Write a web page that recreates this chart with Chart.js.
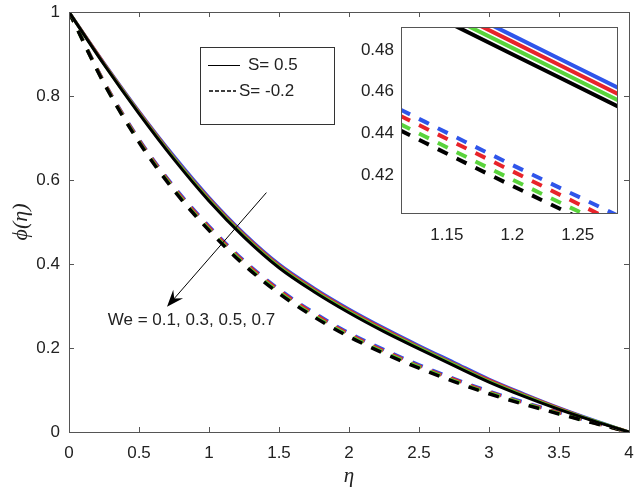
<!DOCTYPE html>
<html lang="en">
<head>
  <meta charset="UTF-8" />
  <title>Concentration profiles for We</title>
  <script src="https://cdn.jsdelivr.net/npm/chart.js@4"></script>
  <style>
    html, body { margin: 0; padding: 0; background: #fff; }
    #wrap { position: relative; width: 640px; height: 492px; }
    #mainChart { position: absolute; left: 0; top: 0; width: 640px; height: 492px; }
    #insetChart { position: absolute; left: 340px; top: 15px; width: 285px; height: 240px; }
  </style>
</head>
<body>
  <div id="wrap">
    <canvas id="mainChart" width="640" height="492"></canvas>
    <canvas id="insetChart" width="285" height="240"></canvas>
  </div>

  <script>
    // main axes
    const eta = [0, 0.25, 0.5, 0.75, 1.0, 1.25, 1.5, 1.75, 2.0, 2.25, 2.5, 2.75, 3.0, 3.25, 3.5, 3.75, 4.0];

    // S = 0.5 (solid)
    const solidWe01 = [1.000, 0.879, 0.764, 0.657, 0.559, 0.473, 0.400, 0.343, 0.293, 0.248, 0.206, 0.166, 0.126, 0.091, 0.058, 0.028, 0.000];
    const solidWe03 = [1.000, 0.878, 0.762, 0.654, 0.556, 0.470, 0.397, 0.340, 0.290, 0.245, 0.203, 0.163, 0.124, 0.089, 0.057, 0.027, 0.000];
    const solidWe05 = [1.000, 0.876, 0.760, 0.652, 0.553, 0.467, 0.394, 0.337, 0.287, 0.242, 0.201, 0.161, 0.121, 0.087, 0.055, 0.027, 0.000];
    const solidWe07 = [1.000, 0.875, 0.758, 0.649, 0.550, 0.464, 0.391, 0.334, 0.284, 0.239, 0.198, 0.158, 0.119, 0.085, 0.054, 0.026, 0.000];

    // S = -0.2 (dashed)
    const dashWe01 = [1.000, 0.834, 0.697, 0.584, 0.490, 0.408, 0.340, 0.284, 0.236, 0.196, 0.160, 0.127, 0.097, 0.071, 0.047, 0.023, 0.000];
    const dashWe03 = [1.000, 0.833, 0.695, 0.581, 0.487, 0.405, 0.337, 0.281, 0.233, 0.193, 0.157, 0.125, 0.095, 0.069, 0.046, 0.022, 0.000];
    const dashWe05 = [1.000, 0.831, 0.692, 0.578, 0.483, 0.401, 0.333, 0.277, 0.230, 0.190, 0.155, 0.122, 0.093, 0.068, 0.044, 0.022, 0.000];
    const dashWe07 = [1.000, 0.830, 0.690, 0.575, 0.480, 0.398, 0.330, 0.274, 0.227, 0.187, 0.152, 0.120, 0.091, 0.066, 0.043, 0.021, 0.000];

    // inset (zoom around eta = 1.2)
    const insetEta = [1.10, 1.20, 1.30];
    const insetSolidWe01 = [0.518, 0.487, 0.456];
    const insetSolidWe03 = [0.515, 0.484, 0.453];
    const insetSolidWe05 = [0.512, 0.481, 0.450];
    const insetSolidWe07 = [0.509, 0.478, 0.447];
    const insetDashWe01 = [0.456, 0.425, 0.395];
    const insetDashWe03 = [0.453, 0.422, 0.391];
    const insetDashWe05 = [0.449, 0.418, 0.388];
    const insetDashWe07 = [0.446, 0.415, 0.385];

    // tick labels
    const mainXTicks = [0, 0.5, 1, 1.5, 2, 2.5, 3, 3.5, 4];
    const mainYTicks = [0, 0.2, 0.4, 0.6, 0.8, 1];
    const insetXTicks = [1.15, 1.2, 1.25];
    const insetYTicks = [0.42, 0.44, 0.46, 0.48];

    const legendLabels = ['S= 0.5', 'S= -0.2'];
    const annotationText = 'We = 0.1, 0.3, 0.5, 0.7';

    const colors = { we01: '#2f55ea', we03: '#e8232a', we05: '#5ad43c', we07: '#000000' };
    const axisColor = '#555555';
    const textColor = '#222222';
    const sansFont = "'Liberation Sans', Arial, sans-serif";
    const serifFont = "'Liberation Serif', 'DejaVu Serif', serif";

    const pts = (xs, ys) => xs.map((e, i) => ({ x: e, y: ys[i] }));

    // black first so it ends up drawn on top
    function buildDatasets(xs, s, d, solidW, dashW) {
      const rows = [
        [s[3], colors.we07, false], [s[2], colors.we05, false],
        [s[1], colors.we03, false], [s[0], colors.we01, false],
        [d[3], colors.we07, true], [d[2], colors.we05, true],
        [d[1], colors.we03, true], [d[0], colors.we01, true]
      ];
      return rows.map(([ys, c, dashed]) => ({
        data: pts(xs, ys),
        borderColor: c,
        borderWidth: dashed ? dashW : solidW,
        borderDash: dashed ? [11, 10] : [],
        borderCapStyle: 'butt',
        pointRadius: 0,
        fill: false,
        cubicInterpolationMode: 'monotone'
      }));
    }

    function tickOpts(size, pad) {
      return {
        padding: pad, color: textColor, font: { family: sansFont, size: size },
        maxRotation: 0, autoSkip: false,
        callback: v => String(+Number(v).toFixed(4))
      };
    }
    const noGrid = { display: false, drawTicks: false };
    const fitX = h => s => { s.height = h; s.paddingLeft = 0; s.paddingRight = 0; };
    const fitY = w => s => { s.width = w; s.paddingTop = 0; s.paddingBottom = 0; };

    // box, inward ticks, legend, arrow for the main axes
    const mainDecor = {
      id: 'mainDecor',
      afterDraw(chart) {
        const { ctx, chartArea: a, scales: { x, y } } = chart;
        const tl = 5;
        ctx.save();
        ctx.strokeStyle = axisColor;
        ctx.lineWidth = 1;
        ctx.strokeRect(Math.round(a.left) + 0.5, Math.round(a.top) + 0.5, Math.round(a.width), Math.round(a.height));
        ctx.beginPath();
        mainXTicks.forEach(v => {
          const px = Math.round(x.getPixelForValue(v)) + 0.5;
          ctx.moveTo(px, a.bottom); ctx.lineTo(px, a.bottom - tl);
          ctx.moveTo(px, a.top); ctx.lineTo(px, a.top + tl);
        });
        mainYTicks.forEach(v => {
          const py = Math.round(y.getPixelForValue(v)) + 0.5;
          ctx.moveTo(a.left, py); ctx.lineTo(a.left + tl, py);
          ctx.moveTo(a.right, py); ctx.lineTo(a.right - tl, py);
        });
        ctx.stroke();

        // legend box
        const lx = a.left + 131, ly = a.top + 35;
        ctx.fillStyle = '#fff';
        ctx.fillRect(lx, ly, 134, 77);
        ctx.strokeStyle = '#333';
        ctx.strokeRect(lx + 0.5, ly + 0.5, 134, 77);
        ctx.strokeStyle = '#000';
        ctx.lineWidth = 1;
        ctx.beginPath();
        ctx.moveTo(lx + 8, ly + 18.5); ctx.lineTo(lx + 40, ly + 18.5);
        ctx.stroke();
        ctx.lineWidth = 1.5;
        ctx.setLineDash([4, 2]);
        ctx.beginPath();
        ctx.moveTo(lx + 9, ly + 44); ctx.lineTo(lx + 36, ly + 44);
        ctx.stroke();
        ctx.setLineDash([]);
        ctx.fillStyle = textColor;
        ctx.font = '17px ' + sansFont;
        ctx.textBaseline = 'middle';
        ctx.textAlign = 'left';
        ctx.fillText(legendLabels[0], lx + 48, ly + 18);
        ctx.fillText(legendLabels[1], lx + 39, ly + 44);

        // arrow pointing towards increasing We
        const x0 = x.getPixelForValue(1.41), y0 = y.getPixelForValue(0.57);
        const x1 = x.getPixelForValue(0.70), y1 = y.getPixelForValue(0.298);
        const dx = x1 - x0, dy = y1 - y0, len = Math.hypot(dx, dy);
        const ux = dx / len, uy = dy / len, nx = -uy, ny = ux;
        const L = 17, W = 6.5;
        ctx.strokeStyle = '#000';
        ctx.lineWidth = 1;
        ctx.beginPath();
        ctx.moveTo(x0, y0); ctx.lineTo(x1 - ux * 10, y1 - uy * 10);
        ctx.stroke();
        ctx.fillStyle = '#000';
        ctx.beginPath();
        ctx.moveTo(x1, y1);
        ctx.lineTo(x1 - ux * L + nx * W, y1 - uy * L + ny * W);
        ctx.lineTo(x1 - ux * (L - 6), y1 - uy * (L - 6));
        ctx.lineTo(x1 - ux * L - nx * W, y1 - uy * L - ny * W);
        ctx.closePath();
        ctx.fill();

        ctx.fillStyle = textColor;
        ctx.font = '17px ' + sansFont;
        ctx.fillText(annotationText, x.getPixelForValue(0.277), y.getPixelForValue(0.267));
        ctx.restore();
      }
    };

    new Chart(document.getElementById('mainChart'), {
      type: 'line',
      data: {
        datasets: buildDatasets(eta,
          [solidWe01, solidWe03, solidWe05, solidWe07],
          [dashWe01, dashWe03, dashWe05, dashWe07], 3, 3.5)
      },
      options: {
        responsive: false,
        animation: false,
        devicePixelRatio: 1,
        layout: { padding: { top: 12, right: 11, left: 0, bottom: 0 } },
        plugins: { legend: { display: false }, tooltip: { enabled: false } },
        scales: {
          x: {
            type: 'linear', min: 0, max: 4,
            afterBuildTicks: s => { s.ticks = mainXTicks.map(v => ({ value: v })); },
            afterFit: fitX(60),
            ticks: tickOpts(17, 11),
            grid: noGrid, border: { display: false },
            title: { display: true, text: 'η', color: textColor, font: { family: serifFont, style: 'italic', size: 21 }, padding: { top: 0, bottom: 3 } }
          },
          y: {
            type: 'linear', min: 0, max: 1,
            afterBuildTicks: s => { s.ticks = mainYTicks.map(v => ({ value: v })); },
            afterFit: fitY(69),
            ticks: tickOpts(17, 9),
            grid: noGrid, border: { display: false },
            title: { display: true, text: 'ϕ(η)', color: textColor, font: { family: serifFont, style: 'italic', size: 22 }, padding: { top: 8, bottom: 0 } }
          }
        }
      },
      plugins: [mainDecor]
    });

    // inset: white axes and a frame
    const insetDecor = {
      id: 'insetDecor',
      beforeDatasetsDraw(chart) {
        const { ctx, chartArea: a } = chart;
        ctx.save();
        ctx.fillStyle = '#fff';
        ctx.fillRect(a.left, a.top, a.width, a.height);
        ctx.restore();
      },
      afterDraw(chart) {
        const { ctx, chartArea: a } = chart;
        ctx.save();
        ctx.strokeStyle = axisColor;
        ctx.lineWidth = 1;
        ctx.strokeRect(Math.round(a.left) + 0.5, Math.round(a.top) + 0.5, Math.round(a.width), Math.round(a.height));
        ctx.restore();
      }
    };

    new Chart(document.getElementById('insetChart'), {
      type: 'line',
      data: {
        datasets: buildDatasets(insetEta,
          [insetSolidWe01, insetSolidWe03, insetSolidWe05, insetSolidWe07],
          [insetDashWe01, insetDashWe03, insetDashWe05, insetDashWe07], 4, 4)
      },
      options: {
        responsive: false,
        animation: false,
        devicePixelRatio: 1,
        layout: { padding: { top: 12, right: 8, left: 0, bottom: 0 } },
        plugins: { legend: { display: false }, tooltip: { enabled: false } },
        scales: {
          x: {
            type: 'linear', min: 1.115, max: 1.28,
            afterBuildTicks: s => { s.ticks = insetXTicks.map(v => ({ value: v })); },
            afterFit: fitX(42),
            ticks: tickOpts(17, 12),
            grid: noGrid, border: { display: false }
          },
          y: {
            type: 'linear', min: 0.402, max: 0.491,
            afterBuildTicks: s => { s.ticks = insetYTicks.map(v => ({ value: v })); },
            afterFit: fitY(61),
            ticks: tickOpts(17, 7),
            grid: noGrid, border: { display: false }
          }
        }
      },
      plugins: [insetDecor]
    });
  </script>
</body>
</html>
